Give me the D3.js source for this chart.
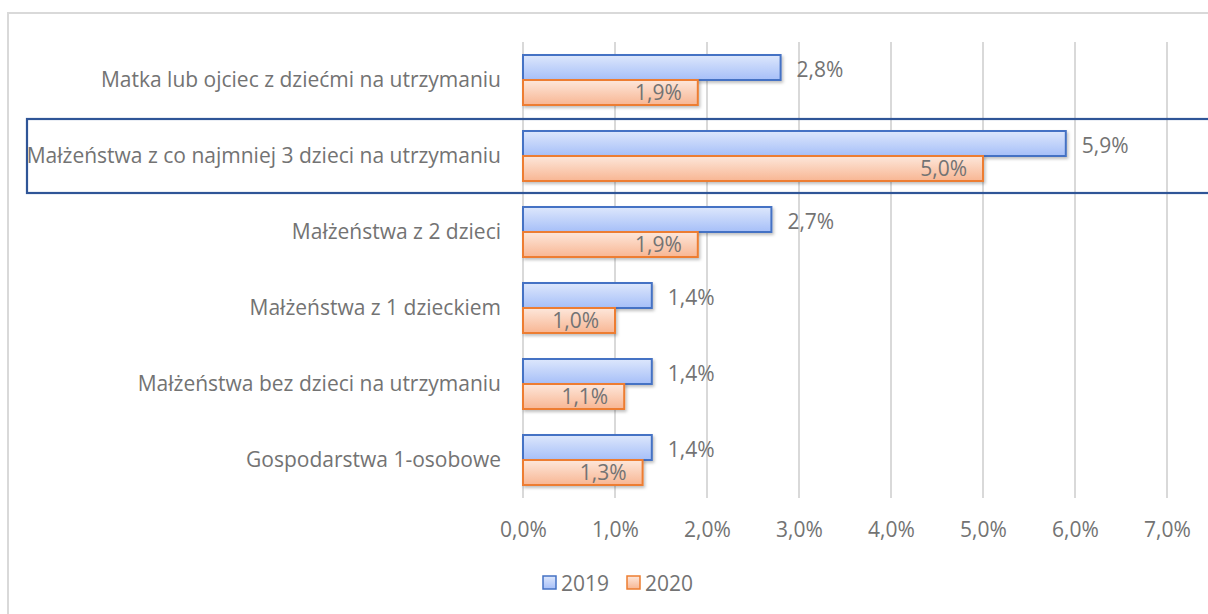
<!DOCTYPE html>
<html><head><meta charset="utf-8">
<script src="https://cdn.jsdelivr.net/npm/d3@7"></script>
<style>body{margin:0;background:#fff}svg{display:block}text{font-family:"Open Sans",sans-serif;fill:#737373}</style>
</head><body>
<svg id="c" width="1208" height="614"></svg>
<script>
const categories = ["Matka lub ojciec z dziećmi na utrzymaniu","Małżeństwa z co najmniej 3 dzieci na utrzymaniu","Małżeństwa z 2 dzieci","Małżeństwa z 1 dzieckiem","Małżeństwa bez dzieci na utrzymaniu","Gospodarstwa 1-osobowe"];
const values2019 = [2.8, 5.9, 2.7, 1.4, 1.4, 1.4];
const values2020 = [1.9, 5.0, 1.9, 1.0, 1.1, 1.3];
const tickValues = [0,1,2,3,4,5,6,7];
const seriesNames = ["2019","2020"];
const highlighted = "Małżeństwa z co najmniej 3 dzieci na utrzymaniu";

const FS = 21;
const FF = "'Open Sans',sans-serif";
const TC = "#737373";
const svg = d3.select("#c");
const fmt = v => d3.format(".1f")(v).replace(".", ",") + "%";
const x = d3.scaleLinear().domain([0,7]).range([523,1167]);
const y = d3.scaleBand().domain(categories).range([42,498]);
const sub = d3.scaleBand().domain(seriesNames).range([0,y.bandwidth()]).paddingOuter(0.52).paddingInner(0);

const defs = svg.append("defs");
function grad(id,c1,c2){const g=defs.append("linearGradient").attr("id",id).attr("x1",0).attr("y1",0).attr("x2",0).attr("y2",1);
 g.append("stop").attr("offset","0%").attr("stop-color",c1);g.append("stop").attr("offset","100%").attr("stop-color",c2);}
grad("gb","#dde7fc","#a6bff8");
grad("go","#fde7db","#f8b693");
const f=defs.append("filter").attr("id","sh").attr("x","-5%").attr("y","-30%").attr("width","115%").attr("height","180%");
f.append("feDropShadow").attr("dx",1.5).attr("dy",2).attr("stdDeviation",1.5).attr("flood-color","#000").attr("flood-opacity",0.25);

// chart border
svg.append("rect").attr("x",8).attr("y",13).attr("width",1220).attr("height",620).attr("fill","none").attr("stroke","#d9d9d9").attr("stroke-width",2);

// gridlines
svg.append("g").selectAll("line").data(tickValues).join("line")
 .attr("x1",d=>x(d)).attr("x2",d=>x(d)).attr("y1",42).attr("y2",498)
 .attr("stroke","#d9d9d9").attr("stroke-width",2);

// tick labels
const xAxis = svg.append("g").attr("transform","translate(0,498)").call(d3.axisBottom(x).tickValues(tickValues).tickFormat(fmt).tickSize(0).tickPadding(24));
xAxis.select(".domain").remove();
xAxis.selectAll("text").attr("font-size",FS).attr("font-family",FF).attr("fill",TC);

// category labels
const yAxis = svg.append("g").attr("transform","translate(501,0)").call(d3.axisLeft(y).tickSize(0).tickPadding(0));
yAxis.select(".domain").remove();
yAxis.selectAll("text").attr("font-size",FS).attr("font-family",FF).attr("fill",TC);

const rows = categories.map((c,i)=>({c, v:[values2019[i], values2020[i]]}));
const cols = [{fill:"url(#gb)",stroke:"#4472c4"},{fill:"url(#go)",stroke:"#ed7d31"}];

rows.forEach(r=>{
  seriesNames.forEach((s,j)=>{
    svg.append("rect").attr("x",x(0)).attr("y",y(r.c)+sub(s)).attr("width",x(r.v[j])-x(0)).attr("height",sub.bandwidth())
      .attr("fill",cols[j].fill).attr("stroke",cols[j].stroke).attr("stroke-width",2).attr("filter","url(#sh)");
  });
});
rows.forEach(r=>{
  svg.append("text").attr("x",x(r.v[0])+16).attr("y",y(r.c)+sub("2019")+sub.bandwidth()/2+2).attr("dy","0.35em")
    .attr("font-size",FS).text(fmt(r.v[0]));
  svg.append("text").attr("x",x(r.v[1])-16).attr("y",y(r.c)+sub("2020")+sub.bandwidth()/2).attr("dy","0.35em")
    .attr("text-anchor","end").attr("font-size",FS).text(fmt(r.v[1]));
});

// highlight box
svg.append("rect").attr("x",27).attr("y",y(highlighted)+1).attr("width",1200).attr("height",y.bandwidth()-2)
  .attr("fill","none").attr("stroke","#2f5597").attr("stroke-width",2.2);

// legend
const lg = svg.append("g");
const lx=[543,627];
seriesNames.forEach((s,j)=>{
  lg.append("rect").attr("x",lx[j]).attr("y",576).attr("width",13).attr("height",13).attr("fill",cols[j].fill).attr("stroke",cols[j].stroke).attr("stroke-width",1.5);
  lg.append("text").attr("x",lx[j]+18).attr("y",583.5).attr("dy","0.35em").attr("font-size",FS).text(s);
});
</script>
</body></html>
